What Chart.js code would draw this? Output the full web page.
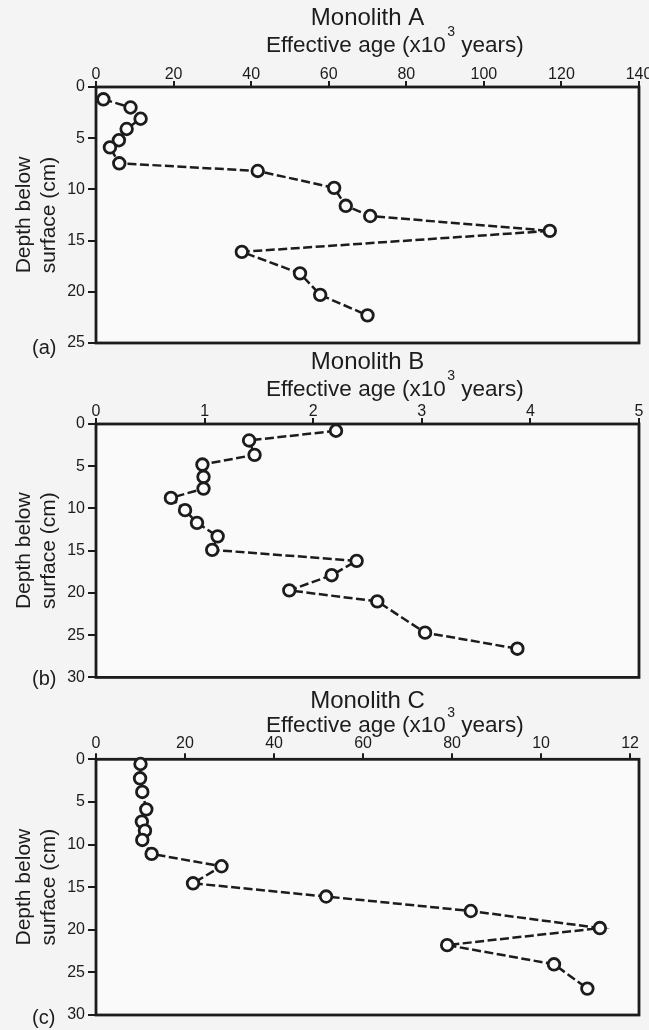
<!DOCTYPE html>
<html><head><meta charset="utf-8">
<script src="https://cdn.jsdelivr.net/npm/chart.js@4"></script>
<style>
html,body{margin:0;padding:0;background:#f4f4f4;width:649px;height:1030px;overflow:hidden;position:relative}
.p{position:absolute;left:0}
canvas{display:block}
</style></head><body>
<div class="p" style="top:0px"><canvas id="cA" width="662" height="360"></canvas></div>
<div class="p" style="top:344px"><canvas id="cB" width="662" height="346"></canvas></div>
<div class="p" style="top:683px"><canvas id="cC" width="662" height="347"></canvas></div>
<script>
// ---- Monolith A ----
const ageA   = [1.9, 8.9, 11.5, 7.9, 5.9, 3.6, 6.0, 41.7, 61.4, 64.4, 70.7, 117.0, 37.6, 52.6, 57.8, 70.0];
const depthA = [1.2, 2.0, 3.1, 4.1, 5.2, 5.9, 7.45, 8.2, 9.85, 11.6, 12.6, 14.05, 16.1, 18.2, 20.3, 22.3];
const xTicksA = [0, 20, 40, 60, 80, 100, 120, 140];
const xLabelsA = ['0', '20', '40', '60', '80', '100', '120', '140'];
const yTicksA = [0, 5, 10, 15, 20, 25];

// ---- Monolith B ----
const ageB   = [2.21, 1.41, 1.46, 0.98, 0.99, 0.99, 0.69, 0.82, 0.93, 1.12, 1.07, 2.40, 2.17, 1.78, 2.59, 3.03, 3.88];
const depthB = [0.8, 1.95, 3.65, 4.8, 6.25, 7.65, 8.75, 10.2, 11.7, 13.3, 14.9, 16.2, 17.9, 19.7, 21.0, 24.7, 26.6];
const xTicksB = [0, 1, 2, 3, 4, 5];
const xLabelsB = ['0', '1', '2', '3', '4', '5'];
const yTicksB = [0, 5, 10, 15, 20, 25, 30];

// ---- Monolith C ----
const ageC   = [1.00, 0.99, 1.04, 1.13, 1.03, 1.10, 1.04, 1.25, 2.82, 2.18, 5.17, 8.42, 11.32, 7.89, 10.29, 11.04];
const depthC = [0.55, 2.23, 3.83, 5.87, 7.31, 8.37, 9.46, 11.1, 12.55, 14.55, 16.1, 17.8, 19.8, 21.8, 24.05, 26.9];
const xTicksC = [0, 2, 4, 6, 8, 10, 12];
const xLabelsC = ['0', '20', '40', '60', '80', '10', '12'];
const yTicksC = [0, 5, 10, 15, 20, 25, 30];

const xTitleMain = 'Effective age (x10';
const xTitleSup = '3';
const xTitleEnd = ' years)';
const yTitle = ['Depth below', 'surface (cm)'];

const FAM = "'Liberation Sans', Arial, sans-serif";
const INK = '#1c1c1c';

const framePlugin = {
  id: 'frame',
  beforeDraw(chart, args, o) {
    const {ctx, chartArea: a} = chart;
    ctx.save();
    ctx.fillStyle = '#fafafa';
    ctx.fillRect(a.left, a.top, a.width, a.height);
    ctx.restore();
  },
  beforeDatasetsDraw(chart, args, o) {
    const {ctx, chartArea: a} = chart;
    ctx.save();
    ctx.strokeStyle = INK;
    ctx.lineWidth = 2.8;
    ctx.strokeRect(a.left, a.top, a.width, a.height);
    ctx.restore();
  },
  afterDraw(chart, args, o) {
    const {ctx, chartArea: a} = chart;
    const xs = chart.scales.x;
    ctx.save();
    ctx.fillStyle = INK;
    ctx.textBaseline = 'middle';
    ctx.textAlign = 'left';
    // panel label
    ctx.font = '20px ' + FAM;
    ctx.fillText(o.label, a.left - 64, a.bottom + o.dy);
    // x axis title with superscript
    const ty = xs.top + o.xTitleOffset;
    ctx.font = '22.5px ' + FAM;
    let x = o.xTitleLeft;
    ctx.fillText(xTitleMain, x, ty);
    x += ctx.measureText(xTitleMain).width + 1.5;
    ctx.font = '14px ' + FAM;
    ctx.fillText(xTitleSup, x, ty - 13);
    x += ctx.measureText(xTitleSup).width;
    ctx.font = '22.5px ' + FAM;
    ctx.fillText(xTitleEnd, x, ty);
    ctx.restore();
  }
};

function makePanel(id, p) {
  const pts = p.age.map((x, i) => ({x: x, y: p.depth[i]}));
  return new Chart(document.getElementById(id), {
    type: 'scatter',
    data: {datasets: [{
      data: pts,
      showLine: true,
      borderColor: INK,
      borderWidth: 2.5,
      borderDash: [9, 3.5],
      pointRadius: 5.8,
      pointHoverRadius: 5.8,
      pointBorderWidth: 2.8,
      pointBackgroundColor: '#fbfbfb',
      pointBorderColor: INK,
      clip: false
    }]},
    options: {
      responsive: false,
      animation: false,
      devicePixelRatio: 1,
      layout: {padding: {left: 0, right: 23, top: 0, bottom: p.padBottom}},
      plugins: {
        legend: {display: false},
        tooltip: {enabled: false},
        title: {display: true, text: p.title, color: INK, fullSize: false,
          font: {family: FAM, size: 24, weight: 'normal', lineHeight: 1.2},
          padding: {top: 3.6, bottom: 0}},
        frame: {label: p.label, dy: p.labelDy, xTitleOffset: p.xTitleOffset, xTitleLeft: 266}
      },
      scales: {
        x: {
          type: 'linear', position: 'top', min: 0, max: p.xMax,
          afterBuildTicks: s => { s.ticks = p.xTicks.map(v => ({value: v})); },
          afterFit: s => { s.height = p.xH; },
          ticks: {callback: (v, i) => p.xLabels[i], color: INK, autoSkip: false, maxRotation: 0,
            padding: p.tickPad, font: {family: FAM, size: 16, lineHeight: 1.2}},
          grid: {drawOnChartArea: false, drawTicks: true, tickLength: 6, color: INK, lineWidth: 2},
          border: {display: false},
          title: {display: false}
        },
        y: {
          type: 'linear', reverse: true, min: 0, max: p.yMax,
          afterBuildTicks: s => { s.ticks = p.yTicks.map(v => ({value: v})); },
          afterFit: s => { s.width = 96; },
          ticks: {color: INK, padding: 3, font: {family: FAM, size: 16, lineHeight: 1.2}},
          grid: {drawOnChartArea: false, drawTicks: true, tickLength: 8, color: INK, lineWidth: 2},
          border: {display: false},
          title: {display: true, text: yTitle, color: INK,
            font: {family: FAM, size: 21, lineHeight: 1.2}, padding: {top: 11.4, bottom: 0}}
        }
      }
    },
    plugins: [framePlugin]
  });
}

makePanel('cA', {title: 'Monolith A', age: ageA, depth: depthA, xMax: 140, xTicks: xTicksA, xLabels: xLabelsA,
  yMax: 25, yTicks: yTicksA, xH: 54.6, tickPad: -3, xTitleOffset: 13.2, padBottom: 17, label: '(a)', labelDy: 5});
makePanel('cB', {title: 'Monolith B', age: ageB, depth: depthB, xMax: 5, xTicks: xTicksB, xLabels: xLabelsB,
  yMax: 30, yTicks: yTicksB, xH: 47.6, tickPad: -3, xTitleOffset: 13.2, padBottom: 11, label: '(b)', labelDy: 2});
makePanel('cC', {title: 'Monolith C', age: ageC, depth: depthC, xMax: 12.2, xTicks: xTicksC, xLabels: xLabelsC,
  yMax: 30, yTicks: yTicksC, xH: 43.9, tickPad: 0, xTitleOffset: 10.6, padBottom: 15, label: '(c)', labelDy: 3});
</script>
</body></html>
